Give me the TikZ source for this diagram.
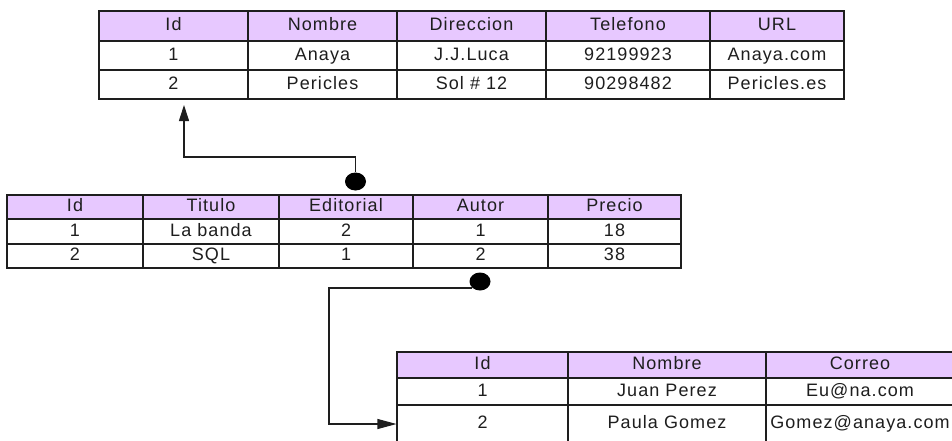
\documentclass[tikz,border=0pt]{standalone}
\usepackage{fontspec}
\setmainfont{Liberation Sans}[LetterSpace=6]
\usetikzlibrary{shapes.geometric,arrows.meta}
\definecolor{hdr}{RGB}{231,200,255}
\definecolor{ink}{RGB}{30,30,30}
\begin{document}
\begin{tikzpicture}[x=1pt,y=-1pt,
  cell/.style={draw=ink,line width=1.1pt,inner sep=0pt,anchor=center,
    text=ink,font=\fontsize{18}{20}\selectfont,text height=12.5pt,text depth=3.5pt},
  hcell/.style={cell,fill=hdr},
  dot/.style={ellipse,fill=black,draw=none,inner sep=0pt,minimum width=21pt,minimum height=18pt},
  conn/.style={draw=ink,line width=1.1pt},
  tipA/.style={-{Triangle[length=16pt,width=10pt]}},
  tipB/.style={-{Triangle[length=19pt,width=10pt]}}]
\useasboundingbox (0,0) rectangle (952,440);
\fill[white] (0,0) rectangle (952,440);
\clip (0,0) rectangle (952,440);

% ---- top table (Editoriales)
\foreach \xa/\xb/\t [count=\c] in {99/248/Id,248/397/Nombre,397/546/Direccion,546/710/Telefono,710/844/URL}
  \node[hcell,minimum width={(\xb-\xa)*1pt},minimum height=30pt] (A-0-\c) at ({(\xa+\xb)/2},26) {\t};
\foreach \xa/\xb/\t [count=\c] in {99/248/1,248/397/Anaya,397/546/J.J.Luca,546/710/92199923,710/844/Anaya.com}
  \node[cell,minimum width={(\xb-\xa)*1pt},minimum height=29pt] (A-1-\c) at ({(\xa+\xb)/2},55.5) {\t};
\foreach \xa/\xb/\t [count=\c] in {99/248/2,248/397/Pericles,397/546/Sol \# 12,546/710/90298482,710/844/Pericles.es}
  \node[cell,minimum width={(\xb-\xa)*1pt},minimum height=29pt] (A-2-\c) at ({(\xa+\xb)/2},84.5) {\t};

% ---- middle table (Libros)
\foreach \xa/\xb/\t [count=\c] in {7/143/Id,143/279/Titulo,279/413/Editorial,413/548/Autor,548/681/Precio}
  \node[hcell,minimum width={(\xb-\xa)*1pt},minimum height=24pt] (L-0-\c) at ({(\xa+\xb)/2},207) {\t};
\foreach \xa/\xb/\t [count=\c] in {7/143/1,143/279/La banda,279/413/2,413/548/1,548/681/18}
  \node[cell,minimum width={(\xb-\xa)*1pt},minimum height=25pt] (L-1-\c) at ({(\xa+\xb)/2},231.5) {\t};
\foreach \xa/\xb/\t [count=\c] in {7/143/2,143/279/SQL,279/413/1,413/548/2,548/681/38}
  \node[cell,minimum width={(\xb-\xa)*1pt},minimum height=24pt] (L-2-\c) at ({(\xa+\xb)/2},256) {\t};

% ---- bottom table (Autores)
\foreach \xa/\xb/\t [count=\c] in {397/568/Id,568/766/Nombre,766/954/Correo}
  \node[hcell,minimum width={(\xb-\xa)*1pt},minimum height=26pt] (B-0-\c) at ({(\xa+\xb)/2},365) {\t};
\foreach \xa/\xb/\t [count=\c] in {397/568/1,568/766/Juan Perez,766/954/Eu@na.com}
  \node[cell,minimum width={(\xb-\xa)*1pt},minimum height=27pt] (B-1-\c) at ({(\xa+\xb)/2},391.5) {\t};
\foreach \xa/\xb/\t [count=\c] in {397/568/2,568/766/Paula Gomez,766/954/Gomez@anaya.com}
  \node[cell,minimum width={(\xb-\xa)*1pt},minimum height=38pt] (B-2-\c) at ({(\xa+\xb)/2},424) {\t};

% ---- connectors
\node[dot] (d1) at (355.5,181.5) {};
\coordinate (a1) at (184,105);
\coordinate (m1) at (184,157);
\draw[conn,tipA] (d1.north) |- (m1) -- (a1);

\node[dot] (d2) at (480,281.5) {};
\coordinate (k2) at (329,0);
\draw[conn,tipB] (d2.south west) -- (d2.south west -| k2) |- (B-2-1.west);
\end{tikzpicture}
\end{document}
